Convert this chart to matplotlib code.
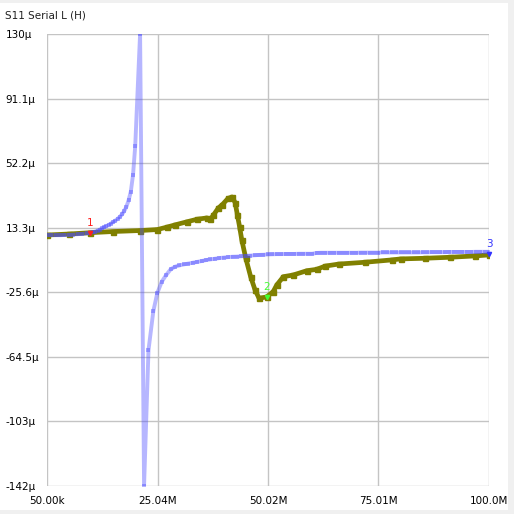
import matplotlib.pyplot as plt
from matplotlib.patches import Rectangle

# ==============================================================================
# DATA  (frequency in MHz, inductance in uH)
# ==============================================================================
blue_f = [0.05, 1, 2, 3, 4, 5, 6, 7, 8, 9, 9.8, 10.5, 11, 11.5, 12, 12.5, 13,
          13.5, 14, 14.5, 15, 15.5, 16, 16.5, 17, 17.5, 18, 18.5, 19, 19.5,
          20, 21.1,
          22.0, 23.0, 24.1, 25, 26, 27, 28, 29, 30, 31, 32, 33, 34, 35, 36, 37,
          38, 39, 40, 41, 42, 43, 44, 45, 46, 47, 48, 49, 50, 51, 52, 53, 54,
          55, 56, 57, 58, 59, 60, 61, 62, 63, 64, 65, 66, 67, 68, 69, 70, 71,
          72, 73, 74, 75, 76, 77, 78, 79, 80, 81, 82, 83, 84, 85, 86, 87, 88,
          89, 90, 91, 92, 93, 94, 95, 96, 97, 98, 99, 100]
blue_L = [8.9, 8.9, 8.8, 8.8, 8.9, 9.0, 9.2, 9.4, 9.6, 9.9, 10.3, 10.6, 11.0,
          11.6, 12.2, 12.9, 13.6, 14.3, 15.0, 15.8, 16.7, 17.6, 18.6, 19.8,
          21.3, 23.3, 25.9, 29.8, 35.0, 45.0, 62.5, 130.0,
          -142.0, -60.4, -36.9, -26.0, -19.2, -15.2, -11.8, -10.2, -9.4, -8.8,
          -8.3, -7.8, -7.3, -6.8, -6.2, -5.8, -5.4, -5.0, -4.7, -4.4, -4.2,
          -4.1, -3.9, -3.7, -3.5, -3.3, -3.1, -3.0, -2.8, -2.7, -2.6, -2.6,
          -2.5, -2.5, -2.5, -2.4, -2.4, -2.4, -2.4, -1.9, -1.8, -1.8, -1.8,
          -1.8, -1.8, -1.8, -1.8, -1.8, -1.8, -1.7, -1.7, -1.7, -1.7, -1.7,
          -1.6, -1.6, -1.6, -1.6, -1.6, -1.6, -1.6, -1.6, -1.6, -1.5, -1.5,
          -1.4, -1.4, -1.4, -1.4, -1.3, -1.3, -1.3, -1.3, -1.3, -1.3, -1.2,
          -1.2, -1.2, -1.2]

olive_f = [0.05, 5, 9.8, 15, 21.1, 25, 27.1, 29, 31.6, 34, 36.2, 37.0, 37.7,
           38.8, 39.7, 41.0, 41.9, 42.6, 43.1, 43.6, 44.1, 45.0, 46.1, 47.1,
           48.0, 49.7, 51.2, 52.0, 53.5, 55.7, 58.8, 61.0, 63, 66, 72, 78, 80,
           85.5, 91.2, 96.8, 100]
olive_L = [8.9, 9.5, 10.3, 11.0, 11.6, 12.2, 13.6, 15.0, 16.8, 18.4, 19.2,
           18.3, 21.0, 25.2, 27.2, 31.0, 31.8, 28.4, 21.0, 13.9, 5.9, -5.1,
           -16.2, -24.2, -29.2, -28.4, -25.2, -21.2, -16.2, -15.2, -12.6,
           -11.8, -9.8, -8.6, -7.5, -6.1, -5.5, -5.1, -4.5, -3.7, -3.1]

x_ticks = [0.05, 25.04, 50.02, 75.01, 100.0]
x_labels = ["50.00k", "25.04M", "50.02M", "75.01M", "100.0M"]
y_ticks = [130, 91.1, 52.2, 13.3, -25.6, -64.5, -103, -142]
y_labels = ["130\u00b5", "91.1\u00b5", "52.2\u00b5", "13.3\u00b5", "-25.6\u00b5",
            "-64.5\u00b5", "-103\u00b5", "-142\u00b5"]

# markers: (label, freq, value, color)
markers = [("1", 9.8, 10.0, "#ff2020"),
           ("2", 49.7, -28.4, "#44ff33"),
           ("3", 100.0, -2.5, "#3333ff")]

# ==============================================================================
# PLOT
# ==============================================================================
W = H = 514
fig = plt.figure(figsize=(W / 100, H / 100), dpi=100, facecolor="#f0f0f0")
fig.patches.append(Rectangle((0, 1 - 510 / H), 508 / W, 507 / H,
                             transform=fig.transFigure, facecolor="white",
                             edgecolor="none", zorder=-10))

ax = fig.add_axes([47 / W, 1 - 486 / H, 442 / W, 452 / H])
ax.set_facecolor("white")

ax.plot(olive_f, olive_L, color="#808000", lw=3.4, marker="s", ms=3.6,
        zorder=3)
ax.plot(blue_f, blue_L, color="#4a4aff", alpha=0.40, lw=2.8, marker="s",
        ms=2.2, mew=0, zorder=4)

for lab, f, v, c in markers:
    ax.plot([f], [v], marker="v", ms=3, color=c, zorder=6, clip_on=False)
    ax.text(f, v + 3.2, lab, color=c, fontsize=7.5, ha="center", va="bottom",
            zorder=6, clip_on=False)

ax.set_xlim(0.05, 100.0)
ax.set_ylim(-142.3, 130)
ax.set_xticks(x_ticks)
ax.set_xticklabels(x_labels)
ax.set_yticks(y_ticks)
ax.set_yticklabels(y_labels)

ax.grid(True, color="#c4c4c4", lw=1.0)
ax.set_axisbelow(True)
for s in ax.spines.values():
    s.set_visible(False)

ax.tick_params(axis="both", length=0, labelsize=7.5, colors="black")
ax.tick_params(axis="x", pad=7)
ax.tick_params(axis="y", pad=30)
for t in ax.get_yticklabels():
    t.set_horizontalalignment("left")

fig.text(5 / W, 1 - 16 / H, "S11 Serial L (H)", fontsize=7.5, ha="left",
         va="center", color="#202020")

fig.savefig("out.png", dpi=100, facecolor=fig.get_facecolor())
